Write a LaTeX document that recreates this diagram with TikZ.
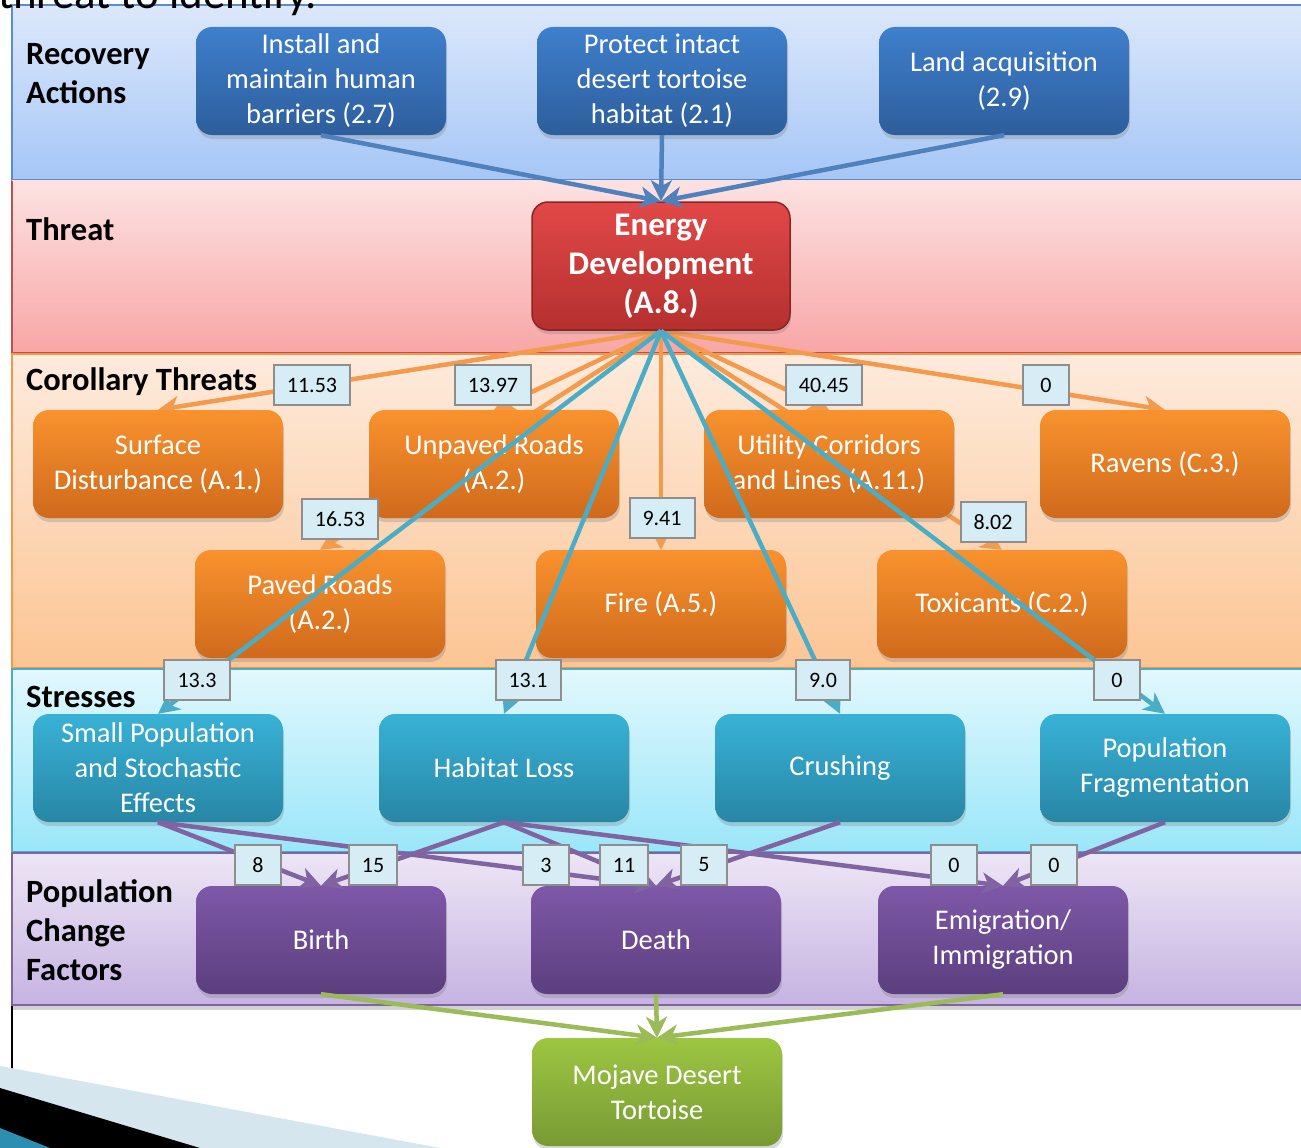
\documentclass[tikz,border=0pt]{standalone}
\usepackage{fontspec}
\setmainfont{Carlito}
\usetikzlibrary{arrows.meta,shadows}

% band colours
\definecolor{bandBlueT}{HTML}{DCE8FB}
\definecolor{bandBlueB}{HTML}{A6C6F6}
\definecolor{bandBlueL}{HTML}{5B8CCF}
\definecolor{bandRedT}{HTML}{FDE2E2}
\definecolor{bandRedB}{HTML}{F8A6A6}
\definecolor{bandRedL}{HTML}{C0504D}
\definecolor{bandOrT}{HTML}{FDEBDD}
\definecolor{bandOrB}{HTML}{FCC594}
\definecolor{bandOrL}{HTML}{F79646}
\definecolor{bandCyT}{HTML}{E2F8FD}
\definecolor{bandCyB}{HTML}{9AE6F9}
\definecolor{bandCyL}{HTML}{4BACC6}
\definecolor{bandPuT}{HTML}{EDE6F5}
\definecolor{bandPuB}{HTML}{C6B3E2}
\definecolor{bandPuL}{HTML}{8064A2}
% box colours
\definecolor{actT}{HTML}{3F7FCC}
\definecolor{actB}{HTML}{2D5E9C}
\definecolor{thrT}{HTML}{E24848}
\definecolor{thrB}{HTML}{B52F2F}
\definecolor{thrL}{HTML}{8B2424}
\definecolor{corT}{HTML}{F9922E}
\definecolor{corB}{HTML}{CF6A1C}
\definecolor{strT}{HTML}{38B2D6}
\definecolor{strB}{HTML}{2886A6}
\definecolor{popT}{HTML}{7E58A8}
\definecolor{popB}{HTML}{5C3F7E}
\definecolor{tortT}{HTML}{9DC642}
\definecolor{tortB}{HTML}{789A34}
% connector colours
\definecolor{lnBlue}{HTML}{4F81BD}
\definecolor{lnOrange}{HTML}{F39A4C}
\definecolor{lnTeal}{HTML}{4BACC6}
\definecolor{lnPurple}{HTML}{8064A2}
\definecolor{lnGreen}{HTML}{9BBB59}
\definecolor{tagFill}{HTML}{D6EDF5}
\definecolor{tagLine}{HTML}{8E8E8E}
\definecolor{decoLight}{HTML}{D5E6EF}
\definecolor{decoTeal}{HTML}{2A8FB0}

\pgfdeclarelayer{bands}
\pgfdeclarelayer{under}
\pgfdeclarelayer{over}
\pgfdeclarelayer{tags}
\pgfsetlayers{bands,under,main,over,tags}

\tikzset{
  box/.style={rounded corners=16pt, minimum width=250pt, minimum height=108pt,
    text=white, align=center, inner sep=4pt,
    font={\fontsize{28.5}{35}\selectfont},
    drop shadow={shadow xshift=1pt, shadow yshift=-4pt, opacity=0.3}},
  actbox/.style={box, top color=actT, bottom color=actB},
  thrbox/.style={box, top color=thrT, bottom color=thrB, draw=thrL, line width=1.5pt,
    minimum width=258pt, minimum height=128pt,
    font={\fontsize{33}{39}\selectfont\bfseries}},
  corbox/.style={box, top color=corT, bottom color=corB},
  strbox/.style={box, top color=strT, bottom color=strB},
  popbox/.style={box, top color=popT, bottom color=popB},
  tortbox/.style={box, top color=tortT, bottom color=tortB},
  conn/.style={line width=4.5pt, -{Stealth[length=21pt,width=21pt,inset=6pt]}},
  tag/.style={fill=tagFill, draw=tagLine, line width=2pt, minimum height=40pt,
    minimum width=46pt, inner xsep=13pt, inner ysep=0pt, text=black,
    font={\fontsize{22}{26}\selectfont}},
  bandlbl/.style={anchor=west, align=left, inner sep=0pt, text=black,
    font={\fontsize{32.5}{39}\selectfont\bfseries}},
}

\begin{document}
\begin{tikzpicture}[x=1pt,y=-1pt]
\path[use as bounding box] (0,0) rectangle (1301,1148);
\clip (0,0) rectangle (1301,1148);

% ---- horizontal bands ----
\begin{pgfonlayer}{bands}
  \fill[white] (0,0) rectangle (1301,1148);
  \fill[top color=bandBlueT, bottom color=bandBlueB] (12,5) rectangle (1320,180);
  \draw[bandBlueL, line width=2pt] (1320,5) -- (12,5) -- (12,180) -- (1320,180);
  \fill[top color=bandRedT, bottom color=bandRedB] (12,180) rectangle (1320,353);
  \draw[bandRedL, line width=2pt] (12,181) -- (12,353) -- (1320,353);
  \fill[top color=bandOrT, bottom color=bandOrB] (12,353) rectangle (1320,668);
  \draw[bandOrL, line width=2pt] (1320,354) -- (12,354) -- (12,668) -- (1320,668);
  \fill[top color=bandCyT, bottom color=bandCyB] (12,668) rectangle (1320,852);
  \draw[bandCyL, line width=2pt] (1320,669) -- (12,669) -- (12,852) -- (1320,852);
  \fill[black, opacity=0.18] (12,1005) rectangle (1320,1010);
  \fill[top color=bandPuT, bottom color=bandPuB] (12,852) rectangle (1320,1005);
  \draw[bandPuL, line width=2pt] (1320,853) -- (12,853) -- (12,1005) -- (1320,1005);
  % slide decoration, lower left
  \draw[black, line width=1.5pt] (12,1006) -- (12,1148);
  \fill[decoLight] (0,1066) -- (440,1148) -- (0,1148) -- cycle;
  \fill[black] (0,1088) -- (200,1148) -- (0,1148) -- cycle;
  \fill[decoTeal] (0,1128) -- (50,1148) -- (0,1148) -- cycle;
  % band titles
  \node[bandlbl] (lblRec) at (26,74) {Recovery\\Actions};
  \node[bandlbl] (lblThr) at (26,229) {Threat};
  \node[bandlbl] (lblCor) at (26,382) {Corollary Threats};
  \node[bandlbl] (lblStr) at (26,697) {Stresses};
  \node[bandlbl] (lblPop) at (26,930) {Population\\Change\\Factors};
  % heading text running off the top edge
  \node[anchor=base west, inner sep=0pt, text=black,
    font={\fontsize{45}{48}\selectfont}] (heading) at (-2,9) {threat to identify.};
\end{pgfonlayer}

% ---- boxes ----
\node[actbox] (install) at (321,81) {Install and\\maintain human\\barriers (2.7)};
\node[actbox] (protect) at (662,81) {Protect intact\\desert tortoise\\habitat (2.1)};
\node[actbox] (land)    at (1004,81) {Land acquisition\\(2.9)};

\node[thrbox] (energy) at (661,266) {Energy\\Development\\(A.8.)};

\node[corbox] (surface) at (158,464) {Surface\\Disturbance (A.1.)};
\node[corbox] (unpaved) at (494,464) {Unpaved Roads\\(A.2.)};
\node[corbox] (utility) at (829,464) {Utility Corridors\\and Lines (A.11.)};
\node[corbox] (ravens)  at (1165,464) {Ravens (C.3.)};
\node[corbox] (paved)   at (320,604) {Paved Roads\\(A.2.)};
\node[corbox] (fire)    at (661,604) {Fire (A.5.)};
\node[corbox] (toxic)   at (1002,604) {Toxicants (C.2.)};

\node[strbox] (smallpop) at (158,768) {Small Population\\and Stochastic\\Effects};
\node[strbox] (habitat)  at (504,768) {Habitat Loss};
\node[strbox] (crushing) at (840,768) {Crushing};
\node[strbox] (fragment) at (1165,768) {Population\\Fragmentation};

\node[popbox] (birth) at (321,940) {Birth};
\node[popbox] (death) at (656,940) {Death};
\node[popbox] (migr)  at (1003,940) {Emigration/\\Immigration};

\node[tortbox] (tortoise) at (657,1092) {Mojave Desert\\Tortoise};

% ---- connectors behind the corollary boxes ----
\begin{pgfonlayer}{under}
  \foreach \t in {surface,unpaved,utility,ravens,paved,fire,toxic}
    \draw[conn, lnOrange] (energy.south) -- (\t.north);
\end{pgfonlayer}

% ---- connectors in front ----
\begin{pgfonlayer}{over}
  \foreach \s in {install,protect,land}
    \draw[conn, lnBlue] (\s.south) -- (energy.north);
  \foreach \t in {smallpop,habitat,crushing,fragment}
    \draw[conn, lnTeal] (energy.south) -- (\t.north);
  \draw[conn, lnPurple] (smallpop.south) -- (birth.north);
  \draw[conn, lnPurple] (smallpop.south) -- (death.north);
  \draw[conn, lnPurple] (habitat.south) -- (birth.north);
  \draw[conn, lnPurple] (habitat.south) -- (death.north);
  \draw[conn, lnPurple] (habitat.south) -- (migr.north);
  \draw[conn, lnPurple] (crushing.south) -- (death.north);
  \draw[conn, lnPurple] (fragment.south) -- (migr.north);
  \foreach \s in {birth,death,migr}
    \draw[conn, lnGreen] (\s.south) -- (tortoise.north);
\end{pgfonlayer}

% ---- value tags ----
\begin{pgfonlayer}{tags}
  \node[tag] (vSurface) at (312,385) {11.53};
  \node[tag] (vUnpaved) at (493,385) {13.97};
  \node[tag] (vUtility) at (824,385) {40.45};
  \node[tag] (vRavens)  at (1046,385) {0};
  \node[tag] (vPaved)   at (340,519) {16.53};
  \node[tag] (vFire)    at (662,518) {9.41};
  \node[tag] (vToxic)   at (993,522) {8.02};
  \node[tag] (vSmall)   at (197,680) {13.3};
  \node[tag] (vHabitat) at (528,680) {13.1};
  \node[tag] (vCrush)   at (823,680) {9.0};
  \node[tag] (vFrag)    at (1117,680) {0};
  \node[tag] (vSB)  at (258,865) {8};
  \node[tag] (vHB)  at (373,865) {15};
  \node[tag] (vSD)  at (546,865) {3};
  \node[tag] (vHD)  at (624,865) {11};
  \node[tag] (vCD)  at (704,865) {5};
  \node[tag] (vHM)  at (954,865) {0};
  \node[tag] (vFM)  at (1054,865) {0};
\end{pgfonlayer}
\end{tikzpicture}
\end{document}
